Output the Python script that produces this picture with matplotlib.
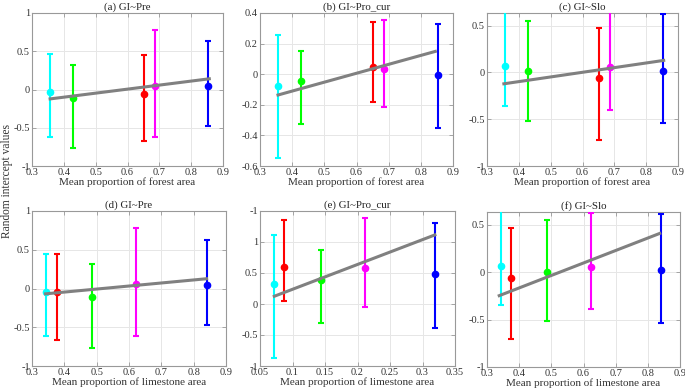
import matplotlib
matplotlib.use("Agg")
import matplotlib.pyplot as plt
import numpy as np

plt.rcParams['font.family'] = ['Liberation Serif', 'DejaVu Serif']

colors = ['#00FFFF', '#00FF00', '#FF0000', '#FF00FF', '#0000FF']

# Forest proportion panels (a-c): order cyan, green, red, magenta, blue
forest_x = [0.356, 0.429, 0.652, 0.687, 0.853]
a_y = [-0.035, -0.11, -0.053, 0.044, 0.044]
a_lo = [-0.617, -0.77, -0.67, -0.617, -0.477]
a_hi = [0.46, 0.32, 0.455, 0.78, 0.64]
a_line_x = [0.357, 0.857]
a_line_y = [-0.123, 0.14]

b_y = [-0.074, -0.042, 0.044, 0.035, -0.007]
b_lo = [-0.545, -0.324, -0.182, -0.217, -0.352]
b_hi = [0.253, 0.151, 0.339, 0.352, 0.326]
b_line_x = [0.356, 0.845]
b_line_y = [-0.136, 0.149]

c_y = [0.071, 0.011, -0.057, 0.061, 0.021]
c_lo = [-0.354, -0.518, -0.718, -0.40, -0.543]
c_hi = [0.75, 0.546, 0.471, 0.75, 0.621]
c_line_x = [0.353, 0.855]
c_line_y = [-0.121, 0.129]

# Limestone panels (d, f): order cyan, red, green, magenta, blue
lime_x = [0.342, 0.376, 0.486, 0.622, 0.840]
lime_colors = ['#00FFFF', '#FF0000', '#00FF00', '#FF00FF', '#0000FF']
d_y = [-0.039, -0.043, -0.108, 0.056, 0.043]
d_lo = [-0.61, -0.662, -0.77, -0.61, -0.472]
d_hi = [0.45, 0.446, 0.32, 0.78, 0.632]
d_line_x = [0.342, 0.84]
d_line_y = [-0.069, 0.126]

e_x = [0.072, 0.087, 0.144, 0.211, 0.319]
e_y = [0.32, 0.603, 0.391, 0.582, 0.478]
e_lo = [-0.864, 0.043, -0.304, -0.043, -0.38]
e_hi = [1.12, 1.353, 0.875, 1.38, 1.30]
e_line_x = [0.072, 0.319]
e_line_y = [0.125, 1.114]

f_y = [0.071, -0.06, 0.007, 0.06, 0.021]
f_lo = [-0.346, -0.707, -0.512, -0.392, -0.534]
f_hi = [0.75, 0.466, 0.548, 0.622, 0.618]
f_line_x = [0.338, 0.837]
f_line_y = [-0.247, 0.410]

titles = ['(a) GI~Pre', '(b) GI~Pro_cur', '(c) GI~Slo',
          '(d) GI~Pre', '(e) GI~Pro_cur', '(f) GI~Slo']
xlabels = ['Mean proportion of forest area'] * 3 + ['Mean proportion of limestone area'] * 3

W, H = 685, 392
fig = plt.figure(figsize=(W / 100, H / 100), dpi=100)

def px_axes(l, r, t, b):
    return fig.add_axes([l / W, (H - b) / H, (r - l) / W, (b - t) / H])

specs = [
    dict(box=(32, 223, 13, 166), x=forest_x, y=a_y, lo=a_lo, hi=a_hi, lx=a_line_x, ly=a_line_y,
         cols=colors, xlim=(0.3, 0.9), xt=np.arange(0.3, 0.91, 0.1), ylim=(-1, 1),
         yt=[-1, -0.5, 0, 0.5, 1], ytl=['-1', '-0.5', '0', '0.5', '1'], xtl=None),
    dict(box=(260, 453, 13, 166), x=forest_x, y=b_y, lo=b_lo, hi=b_hi, lx=b_line_x, ly=b_line_y,
         cols=colors, xlim=(0.3, 0.9), xt=np.arange(0.3, 0.91, 0.1), ylim=(-0.6, 0.4),
         yt=[-0.6, -0.4, -0.2, 0, 0.2, 0.4], ytl=['-0.6', '-0.4', '-0.2', '0', '0.2', '0.4'], xtl=None),
    dict(box=(487, 678, 13, 166), x=forest_x, y=c_y, lo=c_lo, hi=c_hi, lx=c_line_x, ly=c_line_y,
         cols=colors, xlim=(0.3, 0.9), xt=np.arange(0.3, 0.91, 0.1), ylim=(-1, 0.636),
         yt=[-1, -0.5, 0, 0.5], ytl=['-1', '-0.5', '0', '0.5'], xtl=None),
    dict(box=(32, 226, 211, 366), x=lime_x, y=d_y, lo=d_lo, hi=d_hi, lx=d_line_x, ly=d_line_y,
         cols=lime_colors, xlim=(0.3, 0.9), xt=np.arange(0.3, 0.91, 0.1), ylim=(-1, 1),
         yt=[-1, -0.5, 0, 0.5, 1], ytl=['-1', '-0.5', '0', '0.5', '1'], xtl=None),
    dict(box=(260, 455, 211, 366), x=e_x, y=e_y, lo=e_lo, hi=e_hi, lx=e_line_x, ly=e_line_y,
         cols=lime_colors, xlim=(0.05, 0.35), xt=np.arange(0.05, 0.351, 0.05), ylim=(-1, 1.5),
         yt=[-1, -0.5, 0, 0.5, 1, 1.5], ytl=['-1', '-0.5', '0', '0.5', '1', '-1'],
         xtl=['0.05', '0.1', '0.15', '0.2', '0.25', '0.3', '0.35']),
    dict(box=(487, 680, 212, 367), x=lime_x, y=f_y, lo=f_lo, hi=f_hi, lx=f_line_x, ly=f_line_y,
         cols=lime_colors, xlim=(0.3, 0.9), xt=np.arange(0.3, 0.91, 0.1), ylim=(-1, 0.636),
         yt=[-1, -0.5, 0, 0.5], ytl=['-1', '-0.5', '0', '0.5'], xtl=None),
]

for i, s in enumerate(specs):
    ax = px_axes(*s['box'])
    for xi, yi, lo, hi, c in zip(s['x'], s['y'], s['lo'], s['hi'], s['cols']):
        ax.errorbar([xi], [yi], yerr=[[yi - lo], [hi - yi]], fmt='o', color=c,
                    ecolor=c, elinewidth=1.5, capsize=2.5, capthick=1.5, markersize=4.5, zorder=3)
    ax.plot(s['lx'], s['ly'], color='#808080', lw=2.2, zorder=4)
    ax.set_xlim(*s['xlim'])
    ax.set_ylim(*s['ylim'])
    ax.set_xticks(s['xt'])
    if s['xtl'] is None:
        ax.set_xticklabels(['%g' % round(v, 2) for v in s['xt']])
    else:
        ax.set_xticklabels(s['xtl'])
    ax.set_yticks(s['yt'])
    ax.set_yticklabels(s['ytl'])
    ax.grid(True, color='#e6e6e6', lw=0.7)
    ax.set_axisbelow(True)
    for sp in ax.spines.values():
        sp.set_color('#999999')
        sp.set_linewidth(0.8)
    ax.tick_params(direction='in', length=3, width=0.6, color='#999999',
                   labelsize=7.5, labelcolor='#333333', top=True, right=True, pad=1.5)
    ax.set_title(titles[i], fontsize=7.8, color='#222222', pad=2)
    ax.set_xlabel(xlabels[i], fontsize=8, color='#333333', labelpad=0)

fig.text(7 / W, 1 - 181 / H, 'Random intercept values', rotation=90, ha='center', va='center',
         fontsize=8.3, color='#333333')

fig.savefig('out.png', dpi=100)
